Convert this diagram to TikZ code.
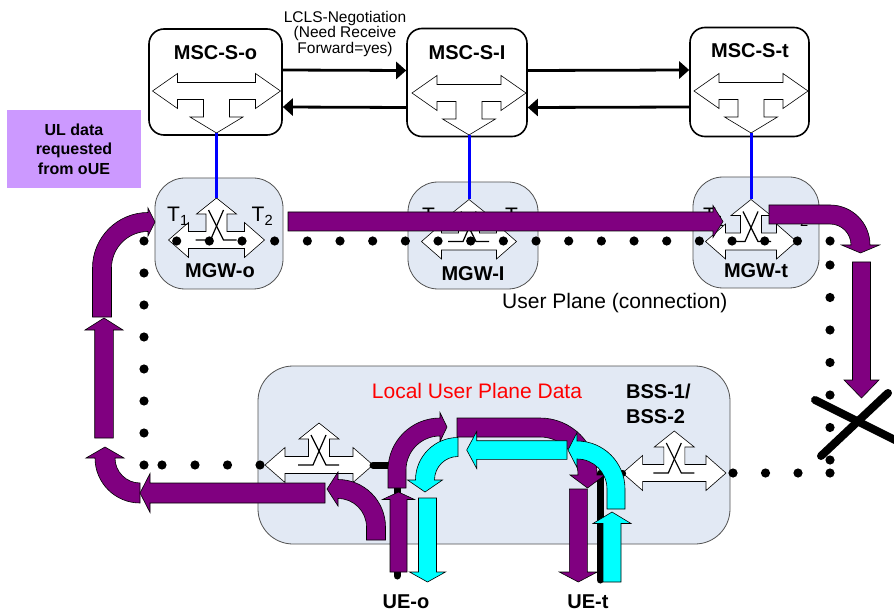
\documentclass[tikz,border=0pt]{standalone}
\usepackage{fontspec}
\setmainfont{Liberation Sans}
\usepackage{tikz}
\usetikzlibrary{arrows.meta,calc}
\definecolor{planefill}{RGB}{226,233,244}
\definecolor{boxedge}{RGB}{80,80,80}
\definecolor{uppurple}{RGB}{128,0,128}
\definecolor{upcyan}{RGB}{0,255,255}
\definecolor{notelilac}{RGB}{204,153,255}

% three-way switch arrow: name, cx, cy, half width, stem side (1 down, -1 up)
\newcommand{\teeshape}[5]{%
  \pgfmathsetmacro\teeHL{(#5)>0 ? 25 : 20}%
  \pgfmathsetmacro\teeSW{(#5)>0 ? 13 : 10.5}%
  \pgfmathsetmacro\teeHW{(#5)>0 ? 26.5 : 20}%
  \pgfmathsetmacro\teeXa{#2-#4}\pgfmathsetmacro\teeXb{#2-#4+\teeHL}%
  \pgfmathsetmacro\teeXc{#2+#4-\teeHL}\pgfmathsetmacro\teeXd{#2+#4}%
  \pgfmathsetmacro\teeYa{#3-(#5)*17.5}\pgfmathsetmacro\teeYb{#3-(#5)*8.5}%
  \pgfmathsetmacro\teeYc{#3+(#5)*8.5}\pgfmathsetmacro\teeYd{#3+(#5)*17.5}%
  \pgfmathsetmacro\teeYe{#3+(#5)*26}\pgfmathsetmacro\teeYf{#3+(#5)*42}%
  \filldraw[teebody] (\teeXa,#3) -- (\teeXb,\teeYa) -- (\teeXb,\teeYb) -- (\teeXc,\teeYb)
    -- (\teeXc,\teeYa) -- (\teeXd,#3) -- (\teeXc,\teeYd) -- (\teeXc,\teeYc)
    -- ({#2+\teeSW},\teeYc) -- ({#2+\teeSW},\teeYe) -- ({#2+\teeHW},\teeYe) -- (#2,\teeYf)
    -- ({#2-\teeHW},\teeYe) -- ({#2-\teeSW},\teeYe) -- ({#2-\teeSW},\teeYc) -- (\teeXb,\teeYc)
    -- (\teeXb,\teeYd) -- cycle;
  \coordinate (#1-tip) at (#2,\teeYf);
  \coordinate (#1-w) at (\teeXa,#3);
  \coordinate (#1-e) at (\teeXd,#3);
}
% crossing contacts drawn in a switch
\newcommand{\switchx}[2]{%
  \draw[switchline] ({#1-21},#2) -- ({#1-6},#2) -- ({#1+7},{#2-30});
  \draw[switchline] ({#1-8},{#2-30}) -- ({#1+7},#2) -- ({#1+20},#2);
}
% straight block arrow: style, from, tip, half width, head half, head length
\newcommand{\blockarrow}[6]{%
  \coordinate (ba-a) at #2; \coordinate (ba-b) at #3;
  \coordinate (ba-h) at ($(ba-b)!#6pt!(ba-a)$);
  \filldraw[#1] ($(ba-a)!#4pt!90:(ba-b)$) -- ($(ba-h)!#4pt!90:(ba-b)$) -- ($(ba-h)!#5pt!90:(ba-b)$)
    -- (ba-b) -- ($(ba-h)!#5pt!-90:(ba-b)$) -- ($(ba-h)!#4pt!-90:(ba-b)$) -- ($(ba-a)!#4pt!-90:(ba-b)$) -- cycle;
}
% bent block arrow: style, centre, radius, half width, start, end, head half, head length, lead-in
\newcommand{\bendarrow}[9]{%
  \pgfmathsetmacro\bsg{(#6)>(#5) ? 1 : -1}%
  \pgfmathsetmacro\bback{#5-(\bsg)*90}\pgfmathsetmacro\bfwd{#6+(\bsg)*90}%
  \pgfmathsetmacro\bro{#3+#4}\pgfmathsetmacro\bri{#3-#4}%
  \pgfmathsetmacro\bho{#3+#7}\pgfmathsetmacro\bhi{#3-#7}%
  \filldraw[#1] ($#2+(#5:\bro)+(\bback:#9)$) -- ($#2+(#5:\bro)$)
    arc[start angle=#5, end angle=#6, radius=\bro] -- ($#2+(#6:\bho)$)
    -- ($#2+(#6:#3)+(\bfwd:#8)$) -- ($#2+(#6:\bhi)$) -- ($#2+(#6:\bri)$)
    arc[start angle=#6, end angle=#5, radius=\bri] -- ($#2+(#5:\bri)+(\bback:#9)$) -- cycle;
}

\begin{document}
\begin{tikzpicture}[x=1pt,y=-1pt,>=Latex,
  mscbox/.style={draw, line width=1.6pt, rounded corners=15pt, fill=white, inner sep=0pt},
  mgwbox/.style={draw=boxedge, line width=0.8pt, fill=planefill, rounded corners=30pt, inner sep=0pt},
  teebody/.style={fill=white, draw=black, line width=0.6pt},
  switchline/.style={line width=1.2pt},
  sigline/.style={line width=2.8pt, -{Triangle[length=10pt,width=17pt]}},
  ctrlline/.style={draw=blue, line width=3pt},
  purplearrow/.style={fill=uppurple, draw=black, line width=0.6pt},
  cyanarrow/.style={fill=upcyan, draw=black, line width=0.6pt},
  ueline/.style={line width=7pt, line cap=round, line join=round},
  crossline/.style={line width=8pt, line cap=round},
  titlefont/.style={font=\fontsize{20}{24}\selectfont\bfseries, inner sep=0pt},
  planefont/.style={font=\fontsize{21}{25}\selectfont, inner sep=0pt},
  tfont/.style={font=\fontsize{21}{25}\selectfont, inner sep=0pt}]
\useasboundingbox (0,0) rectangle (894,612);

% MSC servers
\node[mscbox, minimum width=133pt, minimum height=106pt] (mscso) at (215.5,82) {};
\node[mscbox, minimum width=120pt, minimum height=108pt] (mscsi) at (467,82.5) {};
\node[mscbox, minimum width=119pt, minimum height=109pt] (mscst) at (749.5,82) {};
\node[titlefont, anchor=base] (mscso-name) at (215.5,59.3) {MSC-S-o};
\node[titlefont, anchor=base] (mscsi-name) at (467,59.3) {MSC-S-I};
\node[titlefont, anchor=base] (mscst-name) at (750,57.3) {MSC-S-t};
\teeshape{mscso-t}{216.5}{91}{64}{1}
\teeshape{mscsi-t}{469}{93}{57}{1}
\teeshape{mscst-t}{751}{91}{57}{1}

\draw[sigline] ([yshift=12pt]mscso.east) -- ([yshift=12pt]mscsi.west);
\draw[sigline] ([yshift=-25pt]mscsi.west) -- ([yshift=-25pt]mscso.east);
\draw[sigline] ([yshift=12pt]mscsi.east) -- ([yshift=12pt]mscst.west);
\draw[sigline] ([yshift=-25pt]mscst.west) -- ([yshift=-25pt]mscsi.east);
\node[font=\fontsize{15.5}{14.3}\selectfont, align=center, anchor=north, inner sep=0pt] (lcls) at (345,11)
  {LCLS-Negotiation\\(Need Receive\\Forward=yes)};

% media gateways
\node[mgwbox, minimum width=128pt, minimum height=111pt] (mgwo) at (219,233.5) {};
\node[mgwbox, minimum width=130pt, minimum height=107pt] (mgwi) at (473,235.5) {};
\node[mgwbox, minimum width=126pt, minimum height=111pt] (mgwt) at (756,232.5) {};
\teeshape{mgwo-t}{216.5}{240}{48}{-1}
\switchx{216.5}{240}
\teeshape{mgwi-t}{469}{241.5}{47.5}{-1}
\switchx{469}{241.5}
\teeshape{mgwt-t}{751}{241.5}{45.5}{-1}
\switchx{751}{241.5}
\node[tfont, anchor=base west] (mgwo-t1) at (167,222) {T\textsubscript{1}};
\node[tfont, anchor=base west] (mgwo-t2) at (251.5,222) {T\textsubscript{2}};
\node[tfont, anchor=base west] (mgwi-t1) at (422,223) {T\textsubscript{1}};
\node[tfont, anchor=base west] (mgwi-t2) at (505,223) {T\textsubscript{2}};
\node[tfont, anchor=base west] (mgwt-t1) at (703,223) {T\textsubscript{1}};
\node[tfont, anchor=base west] (mgwt-t2) at (787,223) {T\textsubscript{2}};
\node[titlefont, anchor=base] (mgwo-name) at (220,277.3) {MGW-o};
\node[titlefont, anchor=base] (mgwi-name) at (473,280) {MGW-I};
\node[titlefont, anchor=base] (mgwt-name) at (756,277.3) {MGW-t};

\draw[ctrlline] (mscso-t-tip) -- (mgwo-t-tip);
\draw[ctrlline] (mscsi-t-tip) -- (mgwi-t-tip);
\draw[ctrlline] (mscst-t-tip) -- (mgwt-t-tip);

\node[fill=notelilac, minimum width=134pt, minimum height=78pt, align=center,
  font=\fontsize{16}{19.5}\selectfont\bfseries] (uldata) at (74,149) {UL data\\requested\\from oUE};
\node[planefont, anchor=base west] (upconn) at (502,308.3) {User Plane (connection)};

% radio access
\node[mgwbox, rounded corners=35pt, minimum width=472pt, minimum height=178pt] (bss) at (494,455) {};
\teeshape{bssl}{319}{465}{54}{-1}
\switchx{319}{465}
\teeshape{bssr}{674.3}{473}{51.7}{-1}
\switchx{674.3}{473}
\node[planefont, text=red, anchor=base] (localup) at (477,398.3) {Local User Plane Data};
\node[titlefont, align=left, anchor=north west, font=\fontsize{20}{25}\selectfont\bfseries] (bssname) at (626,383.8) {BSS-1/\\BSS-2};

% user plane path
\foreach \i in {0,...,21} \fill ({144+32.67*\i},241) circle (4.6);
\foreach \i in {1,...,7} \fill (144,{241+32*\i}) circle (4.6);
\foreach \x in {162,195,227.5,260} \fill (\x,465) circle (4.6);
\foreach \i in {0,...,6} \fill (830,{265+32.5*\i}) circle (4.6);
\foreach \x in {733,765.5,798,830} \fill (\x,473) circle (4.6);

\coordinate (ueo-foot) at (397,576);
\coordinate (uet-foot) at (600,580);
\draw[ueline] (bssl-e) -| (ueo-foot);
\draw[ueline] (bssr-w) -| (uet-foot);
\node[titlefont, anchor=base] (ueo) at (406,608) {UE-o};
\node[titlefont, anchor=base] (uet) at (588,608) {UE-t};

\draw[crossline] (815,400) -- (897,441);
\draw[crossline] (821,456) -- (888,393);

% data flow
\blockarrow{purplearrow}{(288,221.5)}{(723,221.5)}{9.5}{16}{10}
\bendarrow{purplearrow}{(830,245)}{30.5}{9.5}{270}{360}{19}{8}{61}
\blockarrow{purplearrow}{(861.5,262)}{(861.5,398)}{9}{17.5}{18}
\bendarrow{purplearrow}{(148,268)}{46}{9.5}{180}{270}{14}{7}{49}
\blockarrow{purplearrow}{(104,438)}{(104,318)}{9.3}{19}{12}
\bendarrow{purplearrow}{(140,458)}{35}{10}{90}{180}{19}{11}{0}
\blockarrow{purplearrow}{(325,493)}{(140,493)}{10}{19.5}{10}
\bendarrow{purplearrow}{(338,527)}{38}{9.5}{0}{-90}{17}{11}{13}
\blockarrow{purplearrow}{(398.5,572)}{(398.5,492)}{8.5}{16}{7.5}
\bendarrow{purplearrow}{(440,470)}{43}{9}{180}{270}{14.5}{7}{18}
\bendarrow{purplearrow}{(540,475)}{47.5}{9.5}{270}{360}{17.5}{13}{83}
\blockarrow{purplearrow}{(578.3,489)}{(578.3,582)}{9}{19}{10}
\bendarrow{cyanarrow}{(458,480)}{33}{9.5}{270}{180}{17.5}{12}{0}
\blockarrow{cyanarrow}{(567,450)}{(466.7,450)}{9.3}{18.5}{10}
\blockarrow{cyanarrow}{(427.5,498)}{(427.5,582)}{9}{18}{10}
\bendarrow{cyanarrow}{(577,489)}{39}{9}{0}{-90}{17.5}{9}{20}
\blockarrow{cyanarrow}{(612,582)}{(612,512)}{9}{19}{11.5}
\end{tikzpicture}
\end{document}
